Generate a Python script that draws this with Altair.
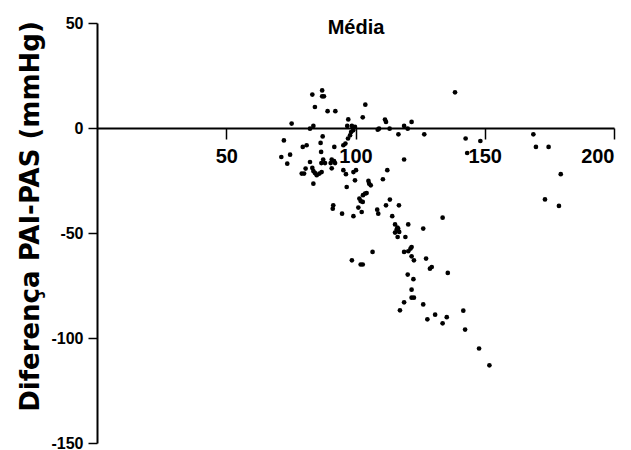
import altair as alt
import pandas as pd

# Média (x) and Diferença PAI-PAS (y)
media = [87.1, 83.3, 87.1, 87.8, 84.3, 89.2, 92.2, 103.8, 102.8, 97.2, 75.3, 83.7, 82.4,
         111.4, 111.8, 108.6, 109.1, 113.2, 116.6, 118.8, 120.2, 121.7, 126.6, 138.5, 142.6, 143.2, 148.3,
         168.8, 169.8, 174.7, 179.4, 173.3, 178.7, 133.7,
         96.8, 98.6, 99.8, 99.1, 98.3, 97.9, 97.1, 96.1, 95.3, 91.8,
         118.8, 112.3, 110.6,
         72.3, 87.3, 86.5, 81.1, 79.6, 86.7, 74.7, 71.3, 73.6, 82.4,
         87.5, 88.2, 86.8, 90.8, 91.7, 90.4, 92.1,
         80.7, 79.2, 80.1, 83.3, 83.7, 84.3, 85.0, 86.0, 86.9, 83.7, 90.8,
         95.3, 96.3, 99.2, 100.2, 96.6, 99.8, 105.0, 105.3, 105.9,
         103.7, 104.3, 102.9, 101.5, 102.0, 102.8, 113.3, 111.8, 116.8,
         101.1, 102.4, 108.4, 108.8, 94.8, 99.2, 114.2, 91.4, 91.2,
         115.3, 116.2, 120.4, 126.2, 115.9, 116.5, 116.9, 115.3, 116.3, 119.3,
         106.6, 98.6, 102.0, 102.8, 118.8, 120.4, 121.3, 121.7, 121.7, 122.6, 127.3, 128.8, 129.5,
         135.7, 120.2, 122.4, 121.7, 121.7, 122.6,
         118.8, 126.2, 117.2, 141.7, 130.8, 127.8, 135.3, 133.7, 142.4, 147.8, 151.8]
diferenca = [17.9, 15.9, 15.1, 15.1, 10.0, 8.0, 8.0, 11.1, 5.1, 4.1, 2.1, 1.0, -0.3,
             4.0, 2.9, -0.8, -0.3, -0.3, -3.0, 1.0, -0.3, 2.9, -3.0, 17.0, -5.0, -11.9, -6.2,
             -3.0, -9.0, -9.0, -22.0, -34.0, -37.1, -42.7,
             1.0, 1.0, 0.5, -1.1, -1.9, -3.5, -5.0, -7.4, -8.2, -9.0,
             -15.0, -20.1, -24.4,
             -5.9, -4.0, -7.1, -8.2, -9.0, -11.4, -12.7, -13.8, -17.0, -16.2,
             -15.0, -16.7, -16.7, -15.0, -15.7, -16.7, -16.7,
             -19.3, -21.7, -21.7, -19.0, -20.5, -21.4, -22.5, -21.7, -21.0, -26.5, -19.2,
             -20.1, -22.0, -21.0, -20.1, -28.1, -24.9, -25.2, -26.5, -27.3,
             -31.2, -31.0, -32.0, -33.6, -34.8, -35.2, -34.1, -36.8, -36.8,
             -37.9, -40.0, -38.9, -40.8, -40.8, -42.0, -42.0, -36.8, -38.4,
             -45.9, -47.4, -45.9, -47.9, -48.4, -47.9, -49.5, -49.8, -51.9, -51.9,
             -59.0, -63.0, -65.0, -65.0, -59.0, -58.7, -57.4, -56.7, -61.1, -63.0, -62.2, -67.0, -66.2,
             -69.0, -69.8, -72.0, -77.0, -80.8, -80.8,
             -83.0, -84.0, -86.8, -87.0, -88.9, -91.1, -90.1, -93.0, -96.0, -105.0, -113.0]

x_ticks = [50, 100, 150, 200]
y_ticks = [-150, -100, -50, 0, 50]
chart_title = ["Média"]

df = pd.DataFrame({"media": media, "dif": diferenca})

font = "Liberation Sans, Arial, sans-serif"

points = alt.Chart(df).mark_circle(size=22, color="black", opacity=1).encode(
    x=alt.X("media:Q",
            scale=alt.Scale(domain=[0, 200], nice=False, zero=False),
            axis=alt.Axis(orient="bottom", offset=-315, values=x_ticks, title=None,
                          grid=False, domainColor="black", domainWidth=2,
                          tickColor="black", tickWidth=1.5, tickSize=11,
                          labelFont=font, labelFontWeight="bold", labelFontSize=20,
                          labelColor="black", labelPadding=7,
                          labelExpr="'' + datum.value")),
    y=alt.Y("dif:Q",
            scale=alt.Scale(domain=[-150, 50], nice=False, zero=False),
            axis=alt.Axis(values=y_ticks, title="Diferença PAI-PAS (mmHg)",
                          grid=False, domainColor="black", domainWidth=2,
                          tickColor="black", tickWidth=1.5, tickSize=9,
                          labelFont=font, labelFontWeight="bold", labelFontSize=16,
                          labelColor="black", labelPadding=5,
                          labelExpr="'' + datum.value",
                          titleFont="DejaVu Sans", titleFontWeight="bold", titleFontSize=26,
                          titleColor="black", titleAngle=270, titleBaseline="alphabetic",
                          titleX=-59, titleY=193, titleAlign="center")),
)

title = alt.Chart(pd.DataFrame({"t": chart_title})).mark_text(
    font=font, fontWeight="bold", fontSize=20, color="black",
    align="center", baseline="middle"
).encode(x=alt.value(259), y=alt.value(5), text="t:N")

chart = alt.layer(points, title).properties(
    width=517, height=420,
    autosize=alt.AutoSizeParams(type="none"),
    padding={"left": 97, "top": 23, "right": 17, "bottom": 7},
    background="white",
).configure_view(stroke=None)

chart.save("out.html", embed_options={"renderer": "svg", "actions": False})
